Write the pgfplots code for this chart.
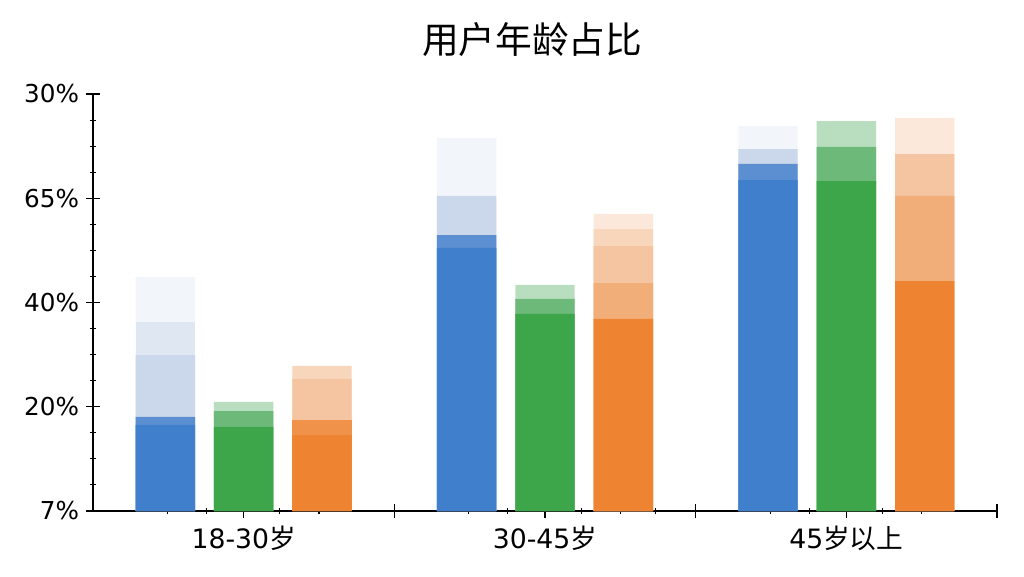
\documentclass[border=0pt]{standalone}
\usepackage{fontspec}
\setmainfont{DejaVu Sans}
\newfontfamily\cjk{Noto Sans CJK SC}
\usepackage{pgfplots}
\pgfplotsset{compat=1.18}

% blue layers, dark to faint
\definecolor{bdark}{HTML}{3F7FCB}
\definecolor{bmid}{HTML}{5C8FD2}
\definecolor{blight}{HTML}{CBD8EB}
\definecolor{blighter}{HTML}{DFE7F2}
\definecolor{bfaint}{HTML}{F2F5F9}
% green layers
\definecolor{gdark}{HTML}{3DA64B}
\definecolor{gmid}{HTML}{6DB97A}
\definecolor{glight}{HTML}{B9DEBF}
% orange layers
\definecolor{odark}{HTML}{EE8431}
\definecolor{omid}{HTML}{F0924A}
\definecolor{olmid}{HTML}{F2AE78}
\definecolor{olight}{HTML}{F5C4A0}
\definecolor{olighter}{HTML}{F8D6BC}
\definecolor{ofaint}{HTML}{FBE8DA}

\begin{document}
\begin{tikzpicture}[x=1pt,y=1pt]
\useasboundingbox (-69.75,-48.75) rectangle (698.25,383.25);
\begin{axis}[
  at={(0,0)}, anchor=origin,
  scale only axis, width=678pt, height=312.75pt,
  xmin=0, xmax=3, ymin=0, ymax=4,
  enlargelimits=false,
  clip=false,
  axis lines=left,
  axis line style={-, line width=0.9pt},
  ybar, bar width=0.197,
  ytick={0,1,2,3,4},
  yticklabels={7\%,20\%,40\%,65\%,30\%},
  minor y tick num=3,
  xtick={0.5,1.5,2.5},
  xticklabels={18-30{\cjk 岁},30-45{\cjk 岁},45{\cjk 岁以上}},
  extra x ticks={1,2,3},
  extra x tick labels={},
  minor xtick={0.247,0.377,0.62,0.75,1.247,1.377,1.62,1.75,1.867,2.247,2.377,2.62,2.75},
  tick align=center,
  major tick length=10pt,
  minor tick length=5pt,
  tick style={black, line width=0.8pt},
  y tick label style={font=\fontsize{18.5}{18.5}\selectfont, xshift=-2pt},
  x tick label style={font=\fontsize{20}{20}\selectfont, yshift=-3pt},
]
% blue bars
\addplot[fill=bfaint, draw=none, bar shift=-0.26] coordinates {(0.5,2.245) (1.5,3.578) (2.5,3.693)};
\addplot[fill=blighter, draw=none, bar shift=-0.26] coordinates {(0.5,1.813)};
\addplot[fill=blight, draw=none, bar shift=-0.26] coordinates {(0.5,1.496) (1.5,3.022) (2.5,3.472)};
\addplot[fill=bmid, draw=none, bar shift=-0.26] coordinates {(0.5,0.902) (1.5,2.647) (2.5,3.329)};
\addplot[fill=bdark, draw=none, bar shift=-0.26] coordinates {(0.5,0.825) (1.5,2.523) (2.5,3.175)};
% green bars
\addplot[fill=glight, draw=none, bar shift=0] coordinates {(0.5,1.046) (1.5,2.168) (2.5,3.741)};
\addplot[fill=gmid, draw=none, bar shift=0] coordinates {(0.5,0.959) (1.5,2.034) (2.5,3.492)};
\addplot[fill=gdark, draw=none, bar shift=0] coordinates {(0.5,0.806) (1.5,1.890) (2.5,3.165)};
% orange bars
\addplot[fill=ofaint, draw=none, bar shift=0.26] coordinates {(1.5,2.849) (2.5,3.770)};
\addplot[fill=olighter, draw=none, bar shift=0.26] coordinates {(0.5,1.391) (1.5,2.705)};
\addplot[fill=olight, draw=none, bar shift=0.26] coordinates {(0.5,1.266) (1.5,2.542) (2.5,3.424)};
\addplot[fill=olmid, draw=none, bar shift=0.26] coordinates {(1.5,2.187) (2.5,3.022)};
\addplot[fill=omid, draw=none, bar shift=0.26] coordinates {(0.5,0.873)};
\addplot[fill=odark, draw=none, bar shift=0.26] coordinates {(0.5,0.729) (1.5,1.842) (2.5,2.206)};
\node[font=\cjk\fontsize{27.5}{27.5}\selectfont] at (axis cs:1.457,4.518) {用户年龄占比};
\end{axis}
\end{tikzpicture}
\end{document}
